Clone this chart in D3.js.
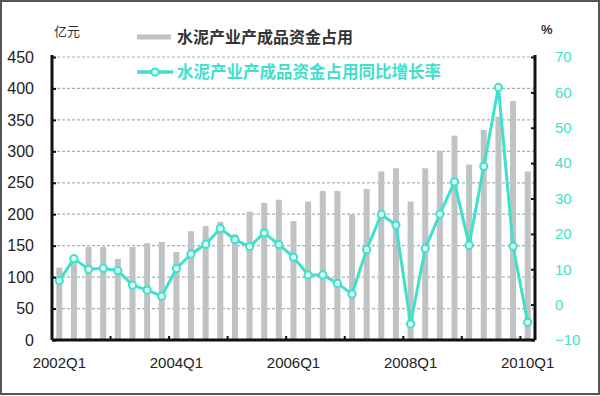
<!DOCTYPE html>
<html>
<head>
<meta charset="utf-8">
<script src="https://cdn.jsdelivr.net/npm/d3@7"></script>
<style>
	body { margin: 0; background: #fff; }
	svg { display: block; }
</style>
</head>
<body>
<div class="chart"></div>
<script>
// quarters 2002Q1 .. 2010Q1
const quarters = [
	'2002Q1','2002Q2','2002Q3','2002Q4',
	'2003Q1','2003Q2','2003Q3','2003Q4',
	'2004Q1','2004Q2','2004Q3','2004Q4',
	'2005Q1','2005Q2','2005Q3','2005Q4',
	'2006Q1','2006Q2','2006Q3','2006Q4',
	'2007Q1','2007Q2','2007Q3','2007Q4',
	'2008Q1','2008Q2','2008Q3','2008Q4',
	'2009Q1','2009Q2','2009Q3','2009Q4',
	'2010Q1'
]
// 产成品资金占用 (亿元)
const funds = [
	115, 130, 148, 148, 129, 148, 154, 156,
	140, 173, 181, 188, 168, 204, 218, 223,
	189, 220, 237, 237, 200, 240, 268, 273,
	220, 273, 301, 325, 279, 334, 355, 380,
	268
]
// 同比增长率 (%)
const growth = [
	6.8, 13, 10, 10.3, 9.6, 5.5, 4.1, 2.4,
	10.2, 14.3, 17.1, 21.5, 18.4, 16.4, 20.3, 17,
	13.4, 8.4, 8.4, 6, 3, 15.6, 25.5, 22.5,
	-5.5, 15.9, 25.6, 34.7, 16.8, 39.1, 61.4, 16.5,
	-5
]
const leftTicks = [0, 50, 100, 150, 200, 250, 300, 350, 400, 450]
const rightTicks = [-10, 0, 10, 20, 30, 40, 50, 60, 70]
const xLabels = ['2002Q1', '2004Q1', '2006Q1', '2008Q1', '2010Q1']
const barName = '水泥产业产成品资金占用'
const lineName = '水泥产业产成品资金占用同比增长率'

const W = 600, H = 396
const margin = ({ top: 57, right: 65, bottom: 56, left: 52 })
const width = W - margin.left - margin.right
const height = H - margin.top - margin.bottom

const barColor = '#bfc3c3'
const lineColor = '#3fe0cc'
const numFont = '"Liberation Sans Narrow", "Arial Narrow", "Liberation Sans", sans-serif'
const cjkFont = '"Noto Sans CJK SC", sans-serif'

const svg = d3.select('.chart')
	.append('svg')
	.attr('width', W)
	.attr('height', H)

// outer frame
svg.append('rect')
	.attr('x', 1).attr('y', 1)
	.attr('width', W - 2).attr('height', H - 3)
	.attr('fill', 'none')
	.attr('stroke', '#555')
	.attr('stroke-width', 2)

const g = svg.append('g')
	.attr('transform', `translate(${margin.left},${margin.top})`)

const x = d3.scaleBand()
	.domain(quarters)
	.range([0, width])
	.padding(0)

const yL = d3.scaleLinear().domain([0, 450]).range([height, 0])
const yR = d3.scaleLinear().domain([-10, 70]).range([height, 0])

// gridlines
g.append('g')
	.selectAll('line')
	.data(leftTicks)
	.join('line')
	.attr('x1', 0)
	.attr('x2', width)
	.attr('y1', d => yL(d))
	.attr('y2', d => yL(d))
	.attr('stroke', '#a8b0b0')
	.attr('stroke-width', 1.2)
	.attr('stroke-dasharray', '3,2')

// bars
const barW = 6
g.append('g')
	.selectAll('rect')
	.data(funds)
	.join('rect')
	.attr('x', (d, i) => x(quarters[i]) + x.bandwidth() / 2 - barW / 2)
	.attr('y', d => yL(d))
	.attr('width', barW)
	.attr('height', d => yL(0) - yL(d))
	.attr('fill', barColor)

// growth line
const line = d3.line()
	.x((d, i) => x(quarters[i]) + x.bandwidth() / 2)
	.y(d => yR(d))

g.append('path')
	.datum(growth)
	.attr('d', line)
	.attr('fill', 'none')
	.attr('stroke', lineColor)
	.attr('stroke-width', 3)
	.attr('stroke-linejoin', 'round')

g.append('g')
	.selectAll('circle')
	.data(growth)
	.join('circle')
	.attr('cx', (d, i) => x(quarters[i]) + x.bandwidth() / 2)
	.attr('cy', d => yR(d))
	.attr('r', 3.6)
	.attr('fill', '#d8faf5')
	.attr('stroke', lineColor)
	.attr('stroke-width', 2)

// axes
const leftAxis = d3.axisLeft(yL).tickValues(leftTicks).tickSize(-4).tickPadding(18)
const rightAxis = d3.axisRight(yR).tickValues(rightTicks).tickSize(-4).tickPadding(20)

const lg = g.append('g').call(leftAxis)
lg.select('.domain').remove()
lg.selectAll('line').attr('stroke', '#111').attr('stroke-width', 2)
lg.selectAll('text')
	.attr('font-family', numFont)
	.attr('font-size', 16)
	.attr('fill', '#222')

const rg = g.append('g').attr('transform', `translate(${width},0)`).call(rightAxis)
rg.select('.domain').remove()
rg.selectAll('line').attr('stroke', '#111').attr('stroke-width', 2)
rg.selectAll('text')
	.attr('font-family', numFont)
	.attr('font-size', 15)
	.attr('fill', lineColor)

// axis frame lines
g.append('line')
	.attr('x1', 0).attr('x2', 0).attr('y1', -2).attr('y2', height)
	.attr('stroke', '#111').attr('stroke-width', 3)
g.append('line')
	.attr('x1', width).attr('x2', width).attr('y1', -2).attr('y2', height)
	.attr('stroke', '#111').attr('stroke-width', 3)
g.append('line')
	.attr('x1', 0).attr('x2', width).attr('y1', height).attr('y2', height)
	.attr('stroke', '#111').attr('stroke-width', 3)

// bottom ticks every 4 quarters
g.append('g')
	.selectAll('line')
	.data(quarters.filter((q, i) => i > 0 && i % 4 === 0))
	.join('line')
	.attr('x1', d => x(d)).attr('x2', d => x(d))
	.attr('y1', height).attr('y2', height - 4)
	.attr('stroke', '#111').attr('stroke-width', 2)

g.append('g')
	.selectAll('text')
	.data(xLabels)
	.join('text')
	.attr('x', d => x(d) + x.bandwidth() / 2)
	.attr('y', height + 28)
	.attr('text-anchor', 'middle')
	.attr('font-family', numFont)
	.attr('font-size', 15)
	.attr('fill', '#222')
	.text(d => d)

// unit labels
svg.append('text')
	.attr('x', 54).attr('y', 36)
	.attr('font-family', cjkFont)
	.attr('font-size', 13)
	.attr('fill', '#333')
	.text('亿元')

svg.append('text')
	.attr('x', 541).attr('y', 34)
	.attr('font-family', numFont)
	.attr('font-size', 13)
	.attr('font-weight', 'bold')
	.attr('fill', '#333')
	.text('%')

// legend
const leg = svg.append('g')
leg.append('line')
	.attr('x1', 137).attr('x2', 171).attr('y1', 37).attr('y2', 37)
	.attr('stroke', barColor).attr('stroke-width', 5)
leg.append('text')
	.attr('x', 177).attr('y', 43)
	.attr('font-family', cjkFont)
	.attr('font-size', 16)
	.attr('font-weight', 'bold')
	.attr('fill', '#333')
	.text(barName)

leg.append('line')
	.attr('x1', 137).attr('x2', 173).attr('y1', 72).attr('y2', 72)
	.attr('stroke', lineColor).attr('stroke-width', 3.5)
leg.append('circle')
	.attr('cx', 155).attr('cy', 72).attr('r', 3.6)
	.attr('fill', '#d8faf5')
	.attr('stroke', lineColor).attr('stroke-width', 2)
leg.append('text')
	.attr('x', 177).attr('y', 78)
	.attr('font-family', cjkFont)
	.attr('font-size', 16.5)
	.attr('font-weight', 'bold')
	.attr('fill', lineColor)
	.text(lineName)
</script>
</body>
</html>
